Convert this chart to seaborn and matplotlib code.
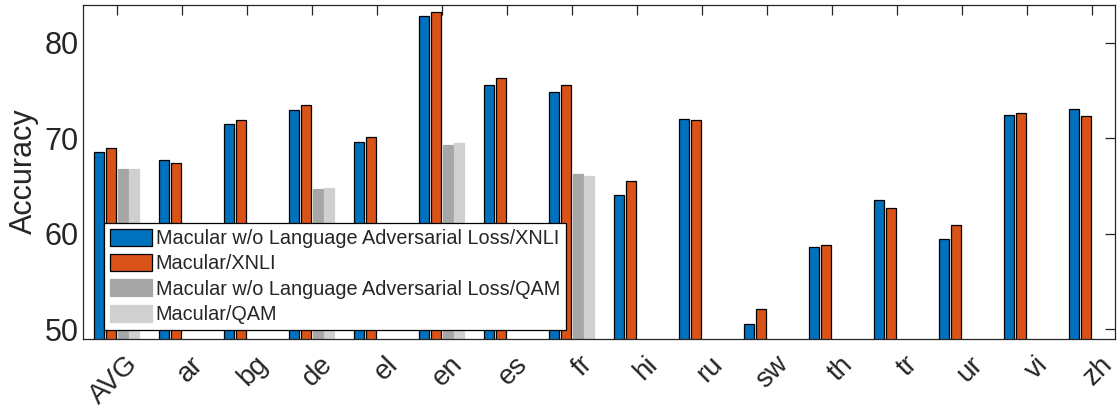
import numpy as np
import pandas as pd
import matplotlib
matplotlib.use("Agg")
import matplotlib.pyplot as plt
import matplotlib.transforms as mtransforms
import seaborn as sns

categories = ["AVG", "ar", "bg", "de", "el", "en", "es", "fr",
              "hi", "ru", "sw", "th", "tr", "ur", "vi", "zh"]
series_names = ["Macular w/o Language Adversarial Loss/XNLI",
                "Macular/XNLI",
                "Macular w/o Language Adversarial Loss/QAM",
                "Macular/QAM"]
nan = np.nan
xnli_wo_adv = [68.6, 67.7, 71.5, 73.0, 69.65, 82.8, 75.6, 74.9,
               64.05, 72.07, 50.53, 58.6, 63.57, 59.4, 72.49, 73.1]
xnli_full = [69.0, 67.4, 71.96, 73.5, 70.1, 83.2, 76.27, 75.6,
             65.5, 71.96, 52.07, 58.8, 62.73, 60.95, 72.7, 72.3]
qam_wo_adv = [66.75, nan, nan, 64.7, nan, 69.3, nan, 66.3,
              nan, nan, nan, nan, nan, nan, nan, nan]
qam_full = [66.8, nan, nan, 64.8, nan, 69.55, nan, 66.0,
            nan, nan, nan, nan, nan, nan, nan, nan]
colors = ["#0072BD", "#D95319", "#A6A6A6", "#D0D0D0"]

rows = []
for name, vals in zip(series_names, [xnli_wo_adv, xnli_full, qam_wo_adv, qam_full]):
    for c, v in zip(categories, vals):
        rows.append({"Language": c, "Accuracy": v, "Model": name})
df = pd.DataFrame(rows)

sns.set_style("white")
plt.rcParams["font.family"] = ["Liberation Sans", "DejaVu Sans"]

fig = plt.figure(figsize=(11.2, 4.12), dpi=100)
ax = fig.add_axes([0.0744, 0.178, 0.9213, 0.8106])

sns.barplot(data=df, x="Language", y="Accuracy", hue="Model",
            order=categories, hue_order=series_names, palette=colors,
            saturation=1, width=0.725, gap=0.14, edgecolor="black",
            linewidth=0.9, errorbar=None, legend=False, ax=ax)

# QAM bars drawn without black outline
for cont, col in zip(ax.containers[2:], colors[2:]):
    for p in cont.patches:
        p.set_edgecolor(col)

ax.set_ylim(49, 84)
ax.set_xlim(-0.514, 15.36)
ax.set_yticks([50, 60, 70, 80])
ax.set_xlabel("")
ax.set_ylabel("Accuracy", fontsize=22, color="#262626", labelpad=4)
ax.tick_params(axis="both", direction="in", top=True, right=True,
               length=7, width=0.9, labelsize=22, colors="#262626")
ax.tick_params(axis="x", pad=9, labelsize=20)
offset = mtransforms.ScaledTranslation(8 / 100, 0, fig.dpi_scale_trans)
for lab in ax.get_xticklabels():
    lab.set_rotation(45)
    lab.set_ha("right")
    lab.set_rotation_mode("anchor")
    lab.set_transform(lab.get_transform() + offset)
for s in ax.spines.values():
    s.set_visible(True)
    s.set_color("#262626")
    s.set_linewidth(0.9)

leg = ax.legend(ax.containers, series_names, loc="lower left",
                bbox_to_anchor=(0.020, 0.026), fontsize=14.3, frameon=True,
                fancybox=False, framealpha=1, edgecolor="black",
                handlelength=2.1, handleheight=0.95, labelspacing=0.3,
                borderpad=0.3, handletextpad=0.2, borderaxespad=0)
leg.get_frame().set_linewidth(0.9)

fig.savefig("out.png", dpi=100)
